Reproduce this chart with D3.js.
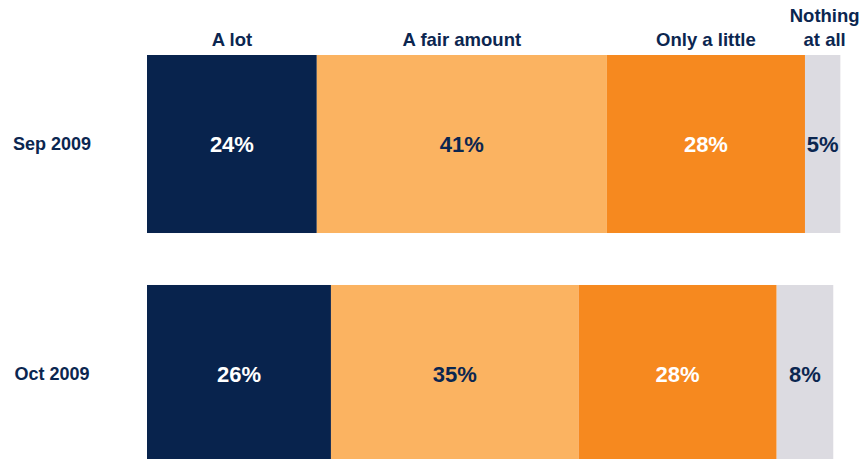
<!DOCTYPE html>
<html>
<head>
<style>
  body { margin: 0; background: #fff; }
  svg text { font-family: "Liberation Sans", Arial, sans-serif; font-weight: bold; }
</style>
</head>
<body>
<svg id="chart"></svg>
<script src="https://d3js.org/d3.v7.min.js"></script>
<script>
// data
const periods = ["Sep 2009", "Oct 2009"];
const answers = ["A lot", "A fair amount", "Only a little", "Nothing at all"];
const sep2009 = [24, 41, 28, 5];
const oct2009 = [26, 35, 28, 8];
const colors = ["#08234d", "#fbb361", "#f6891f", "#dcdbe1"];
const labelColors = ["#ffffff", "#0b2650", "#ffffff", "#0b2650"];

const width = 865, height = 459;
const svg = d3.select("#chart").attr("width", width).attr("height", height);

const x = d3.scaleLinear().domain([0, 100]).range([147, 854.5]);
const y = d3.scaleBand().domain(periods).range([55, 463]).paddingInner(0.226).paddingOuter(0);

const rows = [sep2009, oct2009].map((vals, r) => {
  let acc = 0;
  return vals.map((v, i) => {
    const seg = { period: periods[r], i: i, v: v, x0: acc, x1: acc + v };
    acc += v;
    return seg;
  });
});

const g = svg.append("g");
rows.forEach(row => {
  const rg = g.append("g");
  rg.selectAll("rect").data(row).enter().append("rect")
    .attr("x", d => x(d.x0))
    .attr("width", d => x(d.x1) - x(d.x0))
    .attr("y", d => y(d.period))
    .attr("height", y.bandwidth())
    .attr("fill", d => colors[d.i]);
  rg.selectAll("text").data(row).enter().append("text")
    .attr("x", d => (x(d.x0) + x(d.x1)) / 2)
    .attr("y", d => y(d.period) + y.bandwidth() / 2)
    .attr("dy", "0.36em")
    .attr("text-anchor", "middle")
    .attr("font-size", 22)
    .attr("fill", d => labelColors[d.i])
    .text(d => d.v + "%");
});

// period labels
svg.selectAll(".period").data(periods).enter().append("text")
  .attr("class", "period")
  .attr("x", 52)
  .attr("y", d => y(d) + y.bandwidth() / 2)
  .attr("dy", "0.36em")
  .attr("text-anchor", "middle")
  .attr("font-size", 18)
  .attr("fill", "#0b2650")
  .text(d => d);

// column headers over the first bar
const header = svg.selectAll(".hdr").data(rows[0]).enter().append("text")
  .attr("class", "hdr")
  .attr("x", d => (x(d.x0) + x(d.x1)) / 2)
  .attr("text-anchor", "middle")
  .attr("font-size", 18.5)
  .attr("fill", "#0b2650");
header.each(function(d) {
  const t = d3.select(this);
  const name = answers[d.i];
  if (name === "Nothing at all") {
    t.append("tspan").attr("x", (x(d.x0) + x(d.x1)) / 2 + 2).attr("y", 22).text("Nothing");
    t.append("tspan").attr("x", (x(d.x0) + x(d.x1)) / 2 + 2).attr("y", 46).text("at all");
  } else {
    t.attr("y", 46).text(name);
  }
});
</script>
</body>
</html>
